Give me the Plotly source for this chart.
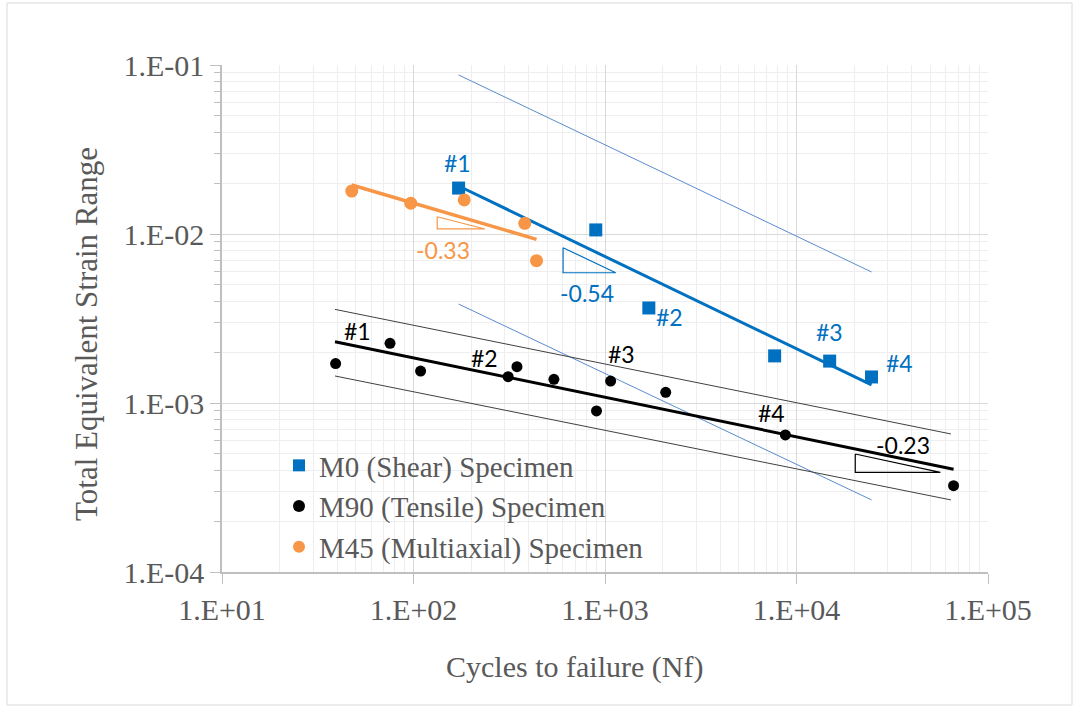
import plotly.graph_objects as go
import numpy as np

# ---- data ----
m0_n = [172, 895, 1694, 7690, 14900, 24650]
m0_e = [0.0187, 0.01057, 0.00365, 0.0019, 0.00177, 0.001426]

m90_n = [39.2, 75.4, 108.9, 312, 347, 541, 903, 1070, 2075, 8750, 66100]
m90_e = [0.00171, 0.002254, 0.001546, 0.001432, 0.00164, 0.00138, 0.000898, 0.001349, 0.001156, 0.000647, 0.000324]

m45_n = [47.6, 96.8, 184, 381, 439]
m45_e = [0.01795, 0.0152, 0.0159, 0.01156, 0.00695]

# fit lines
m0_fit_n = [172, 24650]
m0_fit_e = [0.01923, 0.00128]
m0_up_n = [172, 24650]
m0_up_e = [0.0873, 0.00596]
m0_lo_n = [172, 24650]
m0_lo_e = [0.00385, 0.000267]

m90_fit_n = [38.9, 66100]
m90_fit_e = [0.002306, 0.000406]
m90_up_n = [38.9, 64000]
m90_up_e = [0.00358, 0.000656]
m90_lo_n = [38.9, 64000]
m90_lo_e = [0.001445, 0.000267]

m45_fit_n = [47.6, 439]
m45_fit_e = [0.0195, 0.0093]

# slope triangles (x: left, left, right, left ; y: top, bottom, bottom, top)
tri_m45_n = [133, 133, 236, 133]
tri_m45_e = [0.01265, 0.01071, 0.01071, 0.01265]
tri_m0_n = [604, 604, 1138, 604]
tri_m0_e = [0.0083, 0.0059, 0.0059, 0.0083]
tri_m90_n = [20270, 20270, 56400, 20270]
tri_m90_e = [0.000499, 0.000389, 0.000389, 0.000499]

# labels: (text, N, strain)
labels_m0 = [("#1", 170.6, 0.0263), ("-0.54", 803, 0.00448), ("#2", 2178, 0.00323),
             ("#3", 14900, 0.00263), ("#4", 34600, 0.001726)]
labels_m45 = [("-0.33", 142, 0.00804)]
labels_m90 = [("#1", 51.3, 0.002667), ("#2", 236, 0.001845), ("#3", 1225, 0.00195),
              ("#4", 7430, 0.000873), ("-0.23", 36200, 0.000564)]

x_tickvals = [10, 100, 1000, 10000, 100000]
x_ticktext = ["1.E+01", "1.E+02", "1.E+03", "1.E+04", "1.E+05"]
y_tickvals = [0.0001, 0.001, 0.01, 0.1]
y_ticktext = ["1.E-04", "1.E-03", "1.E-02", "1.E-01"]

BLUE = "#0070C0"
BLUE_THIN = "#5B8BD0"
ORANGE = "#F79646"
BLACK = "#000000"
GRAY_THIN = "#404040"
SERIF = "Liberation Serif, Times New Roman, serif"
SANS = "Lato, Open Sans, sans-serif"

fig = go.Figure()

def line(x, y, color, width, show=False):
    fig.add_trace(go.Scatter(x=x, y=y, mode="lines", line=dict(color=color, width=width),
                             showlegend=show, hoverinfo="skip"))

# thin bound lines
line(m0_up_n, m0_up_e, BLUE_THIN, 1)
line(m0_lo_n, m0_lo_e, BLUE_THIN, 1)
line(m90_up_n, m90_up_e, GRAY_THIN, 1)
line(m90_lo_n, m90_lo_e, GRAY_THIN, 1)
# fits
line(m0_fit_n, m0_fit_e, BLUE, 3)
line(m90_fit_n, m90_fit_e, BLACK, 3)
line(m45_fit_n, m45_fit_e, ORANGE, 3.5)
# triangles
line(tri_m45_n, tri_m45_e, ORANGE, 1.2)
line(tri_m0_n, tri_m0_e, BLUE, 1.2)
line(tri_m90_n, tri_m90_e, BLACK, 1.2)

# markers
fig.add_trace(go.Scatter(x=m0_n, y=m0_e, mode="markers", name="M0 (Shear) Specimen",
                         marker=dict(symbol="square", size=13, color=BLUE)))
fig.add_trace(go.Scatter(x=m90_n, y=m90_e, mode="markers", name="M90 (Tensile) Specimen",
                         marker=dict(symbol="circle", size=11, color=BLACK)))
fig.add_trace(go.Scatter(x=m45_n, y=m45_e, mode="markers", name="M45 (Multiaxial) Specimen",
                         marker=dict(symbol="circle", size=13, color=ORANGE)))

PW, PH = 766.0, 507.0  # plot area size in px
L, T = 222.0, 65.0

def px_x(p):
    return (p - L) / PW

def px_y(p):
    return (T + PH - p) / PH

annotations = []
for group, color in ((labels_m0, BLUE), (labels_m45, ORANGE), (labels_m90, BLACK)):
    for txt, xv, yv in group:
        annotations.append(dict(x=np.log10(xv), y=np.log10(yv), xref="x", yref="y", text=txt,
                                showarrow=False, font=dict(family=SANS, size=23, color=color)))

annotations.append(dict(x=px_x(574), y=px_y(667), xref="paper", yref="paper",
                        text="Cycles to failure (Nf)", showarrow=False,
                        xanchor="center", yanchor="middle",
                        font=dict(family=SERIF, size=30, color="#595959")))
annotations.append(dict(x=px_x(86), y=px_y(334), xref="paper", yref="paper",
                        text="Total Equivalent Strain Range", showarrow=False, textangle=-90,
                        xanchor="center", yanchor="middle",
                        font=dict(family=SERIF, size=31, color="#595959")))

fig.update_layout(
    width=1073, height=708,
    margin=dict(l=222, r=85, t=65, b=136),
    paper_bgcolor="white", plot_bgcolor="white",
    showlegend=True,
    legend=dict(x=px_x(279), y=px_y(440), xanchor="left", yanchor="top", bgcolor="rgba(0,0,0,0)",
                font=dict(family=SERIF, size=29, color="#595959"), tracegroupgap=0,
                itemsizing="constant"),
    annotations=annotations,
)

fig.update_xaxes(type="log", range=[1, 5], tickvals=x_tickvals, ticktext=x_ticktext,
                 showgrid=True, gridcolor="#D9D9D9", gridwidth=1,
                 showline=True, linecolor="#BFBFBF", linewidth=1.5,
                 ticks="outside", ticklen=10, tickcolor="#BFBFBF",
                 tickfont=dict(family=SERIF, size=30, color="#595959"),
                 minor=dict(dtick="D1", showgrid=True, gridcolor="#EEEEEE", ticks=""),
                 zeroline=False, mirror=False)
fig.update_yaxes(type="log", range=[-4, -1], tickvals=y_tickvals, ticktext=y_ticktext,
                 showgrid=True, gridcolor="#D9D9D9", gridwidth=1,
                 showline=True, linecolor="#BFBFBF", linewidth=1.5,
                 ticks="outside", ticklen=10, tickcolor="#BFBFBF",
                 tickfont=dict(family=SERIF, size=30, color="#595959"),
                 minor=dict(dtick="D1", showgrid=True, gridcolor="#EEEEEE", ticks="outside",
                            ticklen=6, tickcolor="#BFBFBF"),
                 zeroline=False)

# outer border
fig.add_shape(type="rect", xref="paper", yref="paper",
              x0=px_x(7), x1=px_x(1072), y0=px_y(705), y1=px_y(3),
              line=dict(color="#D9D9D9", width=1), layer="below")

fig.write_html("out.html")
